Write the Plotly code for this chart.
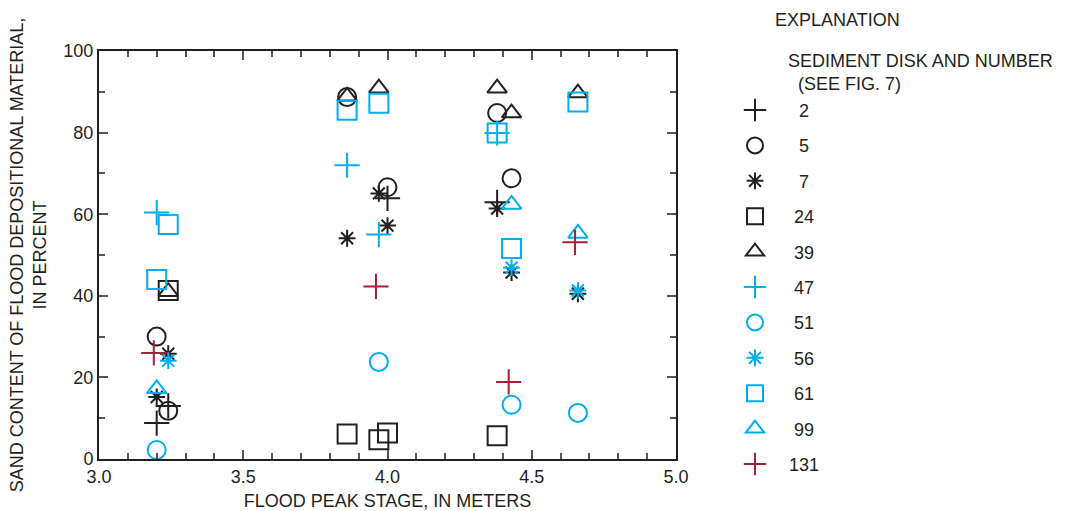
import plotly.graph_objects as go

BLACK = "#231f20"
CYAN = "#00aeef"
RED = "#a3203a"

disk_names = ["2", "5", "7", "24", "39", "47", "51", "56", "61", "99", "131"]
legend_labels = ["  2", "  5", "  7", " 24", " 39", " 47", " 51", " 56", " 61", " 99", "131"]
symbols = ["cross-thin-open", "circle-open", "asterisk-open", "square-open", "triangle-up-open",
           "cross-thin-open", "circle-open", "asterisk-open", "square-open", "triangle-up-open",
           "cross-thin-open"]
colors = [BLACK, BLACK, BLACK, BLACK, BLACK, CYAN, CYAN, CYAN, CYAN, CYAN, RED]
sizes = [18, 18, 14, 19, 17, 18, 18, 14, 19, 17, 18]

# flood peak stage (m)
x_2 = [3.20, 3.24, 4.00, 4.38]
y_2 = [8.8, 13.0, 63.9, 62.9]
x_5 = [3.20, 3.24, 3.86, 4.00, 4.38, 4.43]
y_5 = [30.0, 11.8, 88.7, 66.6, 84.8, 68.8]
x_7 = [3.24, 3.20, 3.97, 4.00, 3.86, 4.38, 4.43, 4.66]
y_7 = [25.8, 15.2, 65.1, 57.2, 54.1, 61.4, 45.7, 40.5]
x_24 = [3.24, 3.86, 3.97, 4.00, 4.38]
y_24 = [41.3, 6.1, 4.7, 6.4, 5.7]
x_39 = [3.24, 3.86, 3.97, 4.38, 4.43, 4.66]
y_39 = [41.0, 88.9, 90.9, 90.9, 84.8, 89.7]
x_47 = [3.20, 3.86, 3.97, 4.38]
y_47 = [60.4, 72.0, 55.0, 79.9]
x_51 = [3.20, 3.97, 4.43, 4.66]
y_51 = [2.2, 23.8, 13.3, 11.3]
x_56 = [3.24, 4.43, 4.66]
y_56 = [24.1, 46.9, 41.3]
x_61 = [3.24, 3.20, 3.86, 3.97, 4.38, 4.43, 4.66]
y_61 = [57.5, 44.0, 85.5, 87.2, 79.9, 51.6, 87.5]
x_99 = [3.20, 4.43, 4.66]
y_99 = [17.2, 62.4, 55.3]
x_131 = [3.19, 3.96, 4.42, 4.65]
y_131 = [26.0, 42.3, 18.9, 53.1]

xs = [x_2, x_5, x_7, x_24, x_39, x_47, x_51, x_56, x_61, x_99, x_131]
ys = [y_2, y_5, y_7, y_24, y_39, y_47, y_51, y_56, y_61, y_99, y_131]

x_ticks = [3.0, 3.5, 4.0, 4.5, 5.0]
x_ticklabels = ["3.0", "3.5", "4.0", "4.5", "5.0"]
y_ticks = [0, 20, 40, 60, 80, 100]
y_ticklabels = ["0", "20", "40", "60", "80", "100"]

FONT = "Liberation Sans, Arial, sans-serif"
FS = 18

fig = go.Figure()
for i in range(len(disk_names)):
    fig.add_trace(go.Scatter(
        x=xs[i], y=ys[i], mode="markers", name=legend_labels[i],
        legendgroup=disk_names[i],
        marker=dict(symbol=symbols[i], size=sizes[i],
                    color=colors[i], line=dict(color=colors[i], width=2)),
        cliponaxis=False,
    ))

axis_common = dict(
    showgrid=False, zeroline=False, showline=True, linecolor=BLACK, linewidth=2,
    mirror="allticks", ticks="inside", ticklen=9, tickwidth=1.5, tickcolor="#555",
    tickfont=dict(family=FONT, size=FS, color=BLACK), automargin=False,
)
fig.update_xaxes(range=[3.0, 5.0], tickvals=x_ticks, ticktext=x_ticklabels,
                 minor=dict(dtick=0.1, ticks="inside", ticklen=6, tickcolor="#555", tickwidth=1.5),
                 title=dict(text="FLOOD PEAK STAGE, IN METERS", font=dict(family=FONT, size=FS, color=BLACK),
                            standoff=9),
                 **axis_common)
fig.update_yaxes(range=[0, 100], tickvals=y_ticks, ticktext=y_ticklabels,
                 minor=dict(dtick=10, ticks="inside", ticklen=6, tickcolor="#555", tickwidth=1.5),
                 title=dict(text="SAND CONTENT OF FLOOD DEPOSITIONAL MATERIAL,<br>IN PERCENT",
                            font=dict(family=FONT, size=FS, color=BLACK), standoff=12),
                 **axis_common)

fig.update_layout(
    width=1066, height=511,
    margin=dict(l=99, r=390, t=51, b=52),
    paper_bgcolor="white", plot_bgcolor="white",
    showlegend=True,
    legend=dict(x=1.078, y=0.90, xanchor="left", yanchor="top",
                font=dict(family=FONT, size=FS, color=BLACK),
                tracegroupgap=9, itemwidth=58, bgcolor="rgba(0,0,0,0)"),
    annotations=[
        dict(text="EXPLANATION", xref="paper", yref="paper", x=(773 - 99) / 577, y=(459 - 20) / 408,
             xanchor="left", yanchor="middle", showarrow=False,
             font=dict(family=FONT, size=FS, color=BLACK)),
        dict(text="SEDIMENT DISK AND NUMBER<br>  (SEE FIG. 7)", xref="paper", yref="paper",
             x=(786 - 99) / 577, y=(459 - 72) / 408, xanchor="left", yanchor="middle", align="left",
             showarrow=False, font=dict(family=FONT, size=FS, color=BLACK)),
    ],
)

fig.write_html("out.html")
